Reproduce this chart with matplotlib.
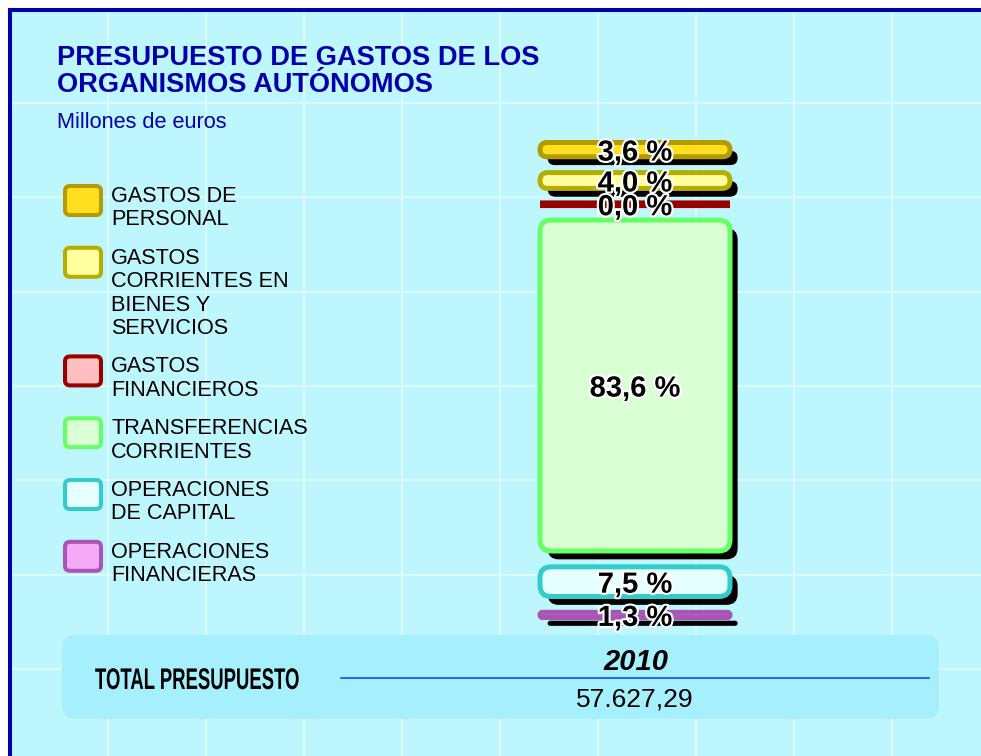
import numpy as np
import matplotlib
matplotlib.use("Agg")
import matplotlib.pyplot as plt
import matplotlib.patheffects as pe
from matplotlib.patches import FancyBboxPatch
from matplotlib.transforms import Affine2D

# data (top segment first)
categories = ["GASTOS DE\nPERSONAL",
              "GASTOS\nCORRIENTES EN\nBIENES Y\nSERVICIOS",
              "GASTOS\nFINANCIEROS",
              "TRANSFERENCIAS\nCORRIENTES",
              "OPERACIONES\nDE CAPITAL",
              "OPERACIONES\nFINANCIERAS"]
shares = [3.6, 4.0, 0.0, 83.6, 7.5, 1.3]
face_colors = ["#FFDF1F", "#FFFFA0", "#FFBFBF", "#DAFFD5", "#E6FFFF", "#F5AAF5"]
edge_colors = ["#B39B00", "#B5AE00", "#990000", "#66FF66", "#33CCCC", "#A855B5"]
year = "2010"
total = "57.627,29"

title_lines = ["PRESUPUESTO DE GASTOS DE LOS", "ORGANISMOS AUTÓNOMOS"]
subtitle = "Millones de euros"

plt.rcParams["font.family"] = ["Liberation Sans", "DejaVu Sans"]


class Squeeze(pe.AbstractPathEffect):
    # narrow the glyphs horizontally around x0 (display px)
    def __init__(self, sx, x0):
        super().__init__()
        self.sx = sx
        self.x0 = x0

    def draw_path(self, renderer, gc, tpath, affine, rgbFace=None):
        t = affine + Affine2D().translate(-self.x0, 0).scale(self.sx, 1).translate(self.x0, 0)
        renderer.draw_path(gc, tpath, t, rgbFace)


W, H = 981, 756
navy = "#0000AA"
bg = "#BEF6FD"
fig = plt.figure(figsize=(W / 100, H / 100), dpi=100, facecolor="white")

# background panel, data coords = pixels (y down)
ax = fig.add_axes([10 / W, 0, 1 - 10 / W, 1 - 10 / H])
ax.set_xlim(10, W)
ax.set_ylim(H, 10)
ax.set_facecolor(bg)
ax.set_xticks(np.arange(108, W, 98))
ax.set_yticks(103 + 94.3 * np.arange(7))
ax.tick_params(length=0, labelbottom=False, labelleft=False)
ax.grid(True, color="#E2FBFF", lw=1.2)
ax.set_axisbelow(True)
for s in ["right", "bottom"]:
    ax.spines[s].set_visible(False)
for s in ["left", "top"]:
    ax.spines[s].set_color(navy)
    ax.spines[s].set_linewidth(2.9)

# titles
for i, line in enumerate(title_lines):
    ax.text(57, 65 + 27 * i, line, fontsize=19.6, fontweight="bold", color=navy,
            va="baseline", ha="left")
ax.text(57, 128, subtitle, fontsize=15.7, color=navy, va="baseline", ha="left")

# legend
top = 184
for lab, fc, ec in zip(categories, face_colors, edge_colors):
    ax.add_patch(FancyBboxPatch((65, top + 2), 36, 29,
                                boxstyle="round,pad=0,rounding_size=5",
                                fc=fc, ec=ec, lw=2.9))
    lines = lab.split("\n")
    for j, line in enumerate(lines):
        ax.text(111, top + 18 + 23.4 * j, line, fontsize=15.6, color="black",
                va="baseline", ha="left")
    top += len(lines) * 23.4 + 15

# total box
ax.add_patch(FancyBboxPatch((62, 635), 877, 84,
                            boxstyle="round,pad=0,rounding_size=14",
                            fc="#A6F0FD", ec="none"))
x0 = ax.transData.transform((95, 689))[0]
ax.text(95, 689, "TOTAL PRESUPUESTO", fontsize=21.5, fontweight="bold",
        va="baseline", ha="left", color="black",
        path_effects=[Squeeze(0.62, x0)])
ax.plot([341, 929], [678, 678], color="#0050FF", lw=1.2)
ax.text(636, 670, year, fontsize=21, fontweight="bold", fontstyle="italic",
        va="baseline", ha="center")
ax.text(635, 707, total, fontsize=19, va="baseline", ha="center")

# stacked bar with gaps
gap = 4.0
ymax = sum(shares) + gap * (len(shares) - 1)
bax = fig.add_axes([540 / W, (H - 617.5) / H, 190 / W, 475 / H])
bax.set_xlim(0, 1)
bax.set_ylim(0, ymax)
bax.axis("off")
px_x = 190.0
px_y = 475.0 / ymax
asp = px_x / px_y
r_full = 11 / px_x

bottom = 0.0
for v, fc, ec in reversed(list(zip(shares, face_colors, edge_colors))):
    r = min(r_full, v / 2 / asp)
    lw = 3.6
    if v == 0:
        fc = ec
        lw = 5.5
    p = FancyBboxPatch((0, bottom), 1, v,
                       boxstyle=f"round,pad=0,rounding_size={r}",
                       mutation_aspect=asp, fc=fc, ec=ec, lw=lw,
                       clip_on=False)
    p.set_path_effects([pe.SimplePatchShadow(offset=(5.5, -6),
                                             shadow_rgbFace="black", alpha=1.0),
                        pe.Normal()])
    bax.add_patch(p)
    lbl = f"{v:.1f}".replace(".", ",") + " %"
    bax.text(0.5, bottom + v / 2, lbl, ha="center", va="center_baseline",
             fontsize=21, fontweight="bold", color="black", zorder=5,
             path_effects=[pe.withStroke(linewidth=3, foreground="white")])
    bottom += v + gap

fig.savefig("out.png", dpi=100, facecolor="white")
